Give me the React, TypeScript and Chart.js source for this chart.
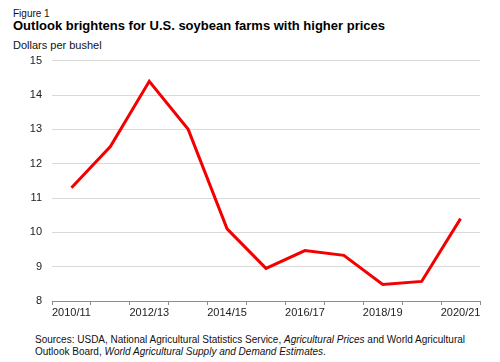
import React, { useEffect, useRef } from "react";
import { Chart, registerables } from "chart.js";

Chart.register(...registerables);

const categories = [
  "2010/11", "2011/12", "2012/13", "2013/14", "2014/15", "2015/16",
  "2016/17", "2017/18", "2018/19", "2019/20", "2020/21",
];
const prices = [11.3, 12.5, 14.4, 13.0, 10.1, 8.95, 9.47, 9.33, 8.48, 8.57, 10.4];
const yMin = 8;
const yMax = 15;
const yStep = 1;

const FONT = "'Liberation Sans', Arial, Helvetica, sans-serif";

export default function App() {
  const ref = useRef<HTMLCanvasElement | null>(null);

  useEffect(() => {
    document.body.style.margin = "0";
    const canvas = ref.current;
    if (!canvas) return;
    const chart = new Chart(canvas, {
      type: "line",
      data: {
        labels: categories,
        datasets: [
          {
            data: prices,
            borderColor: "#f50000",
            backgroundColor: "#f50000",
            borderWidth: 3,
            pointRadius: 0,
            tension: 0,
            fill: false,
          },
        ],
      },
      options: {
        animation: false,
        responsive: false,
        devicePixelRatio: 1,
        layout: { padding: { top: 10.7, right: 20, left: 0, bottom: 0 } },
        plugins: {
          legend: { display: false },
          tooltip: { enabled: false },
          title: { display: false },
        },
        scales: {
          x: {
            type: "category",
            offset: true,
            grid: {
              offset: true,
              drawOnChartArea: false,
              drawTicks: true,
              tickLength: 4,
              color: "#8c8c8c",
              lineWidth: 1,
            },
            border: { display: true, color: "#8c8c8c", width: 1 },
            ticks: {
              autoSkip: false,
              maxRotation: 0,
              padding: 1,
              color: "#222222",
              font: { family: FONT, size: 11 },
              callback: function (_v: any, i: number) {
                return i % 2 === 0 ? categories[i] : "";
              },
            },
            afterFit: (scale: any) => {
              scale.height = 24;
              scale.paddingLeft = 0;
              scale.paddingRight = 0;
            },
          },
          y: {
            min: yMin,
            max: yMax,
            grid: {
              drawTicks: false,
              color: "#d9d9d9",
              lineWidth: 1,
            },
            border: { display: false },
            ticks: {
              stepSize: yStep,
              padding: 10,
              color: "#222222",
              font: { family: FONT, size: 11 },
            },
            afterFit: (scale: any) => {
              scale.width = 52;
              scale.paddingTop = 0;
              scale.paddingBottom = 0;
            },
          },
        },
      },
    });
    return () => chart.destroy();
  }, []);

  const text: React.CSSProperties = {
    position: "absolute",
    fontFamily: FONT,
    color: "#111",
    whiteSpace: "nowrap",
    margin: 0,
  };

  return (
    <div
      style={{
        position: "relative",
        width: 500,
        height: 362,
        background: "#fff",
        overflow: "hidden",
      }}
    >
      <div style={{ ...text, left: 13, top: 8, fontSize: 10, lineHeight: "12px" }}>Figure 1</div>
      <div style={{ ...text, left: 13, top: 18, fontSize: 13, fontWeight: "bold", lineHeight: "16px", color: "#000" }}>
        Outlook brightens for U.S. soybean farms with higher prices
      </div>
      <div style={{ ...text, left: 13, top: 38, fontSize: 11, lineHeight: "14px" }}>Dollars per bushel</div>
      <canvas
        ref={ref}
        width={500}
        height={275}
        style={{ position: "absolute", left: 0, top: 50, width: 500, height: 275 }}
      />
      <div style={{ ...text, left: 35, top: 334, fontSize: 10, lineHeight: "12px" }}>
        Sources: USDA, National Agricultural Statistics Service, <i>Agricultural Prices</i> and World Agricultural
      </div>
      <div style={{ ...text, left: 35, top: 346, fontSize: 10, lineHeight: "12px" }}>
        Outlook Board, <i>World Agricultural Supply and Demand Estimates</i>.
      </div>
    </div>
  );
}
